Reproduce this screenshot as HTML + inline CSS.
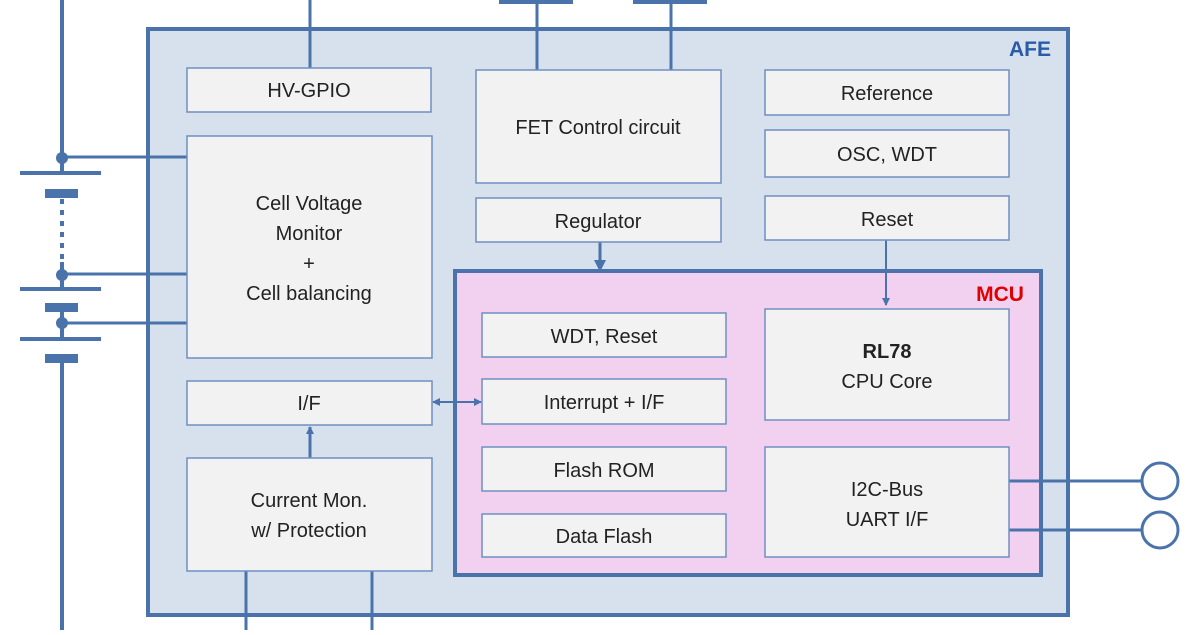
<!DOCTYPE html><html><head><style>body{margin:0;width:1200px;height:630px;overflow:hidden;background:#fff}</style></head><body>
<svg width="1200" height="630" xmlns="http://www.w3.org/2000/svg" font-family="Liberation Sans, sans-serif">
<defs>
<marker id="a" markerWidth="8" markerHeight="8" refX="7" refY="4" orient="auto" markerUnits="userSpaceOnUse"><path d="M0,0L8,4L0,8z" fill="#4a73ac"/></marker>
<marker id="c" markerWidth="12" markerHeight="12" refX="10" refY="6" orient="auto" markerUnits="userSpaceOnUse"><path d="M0,0L12,6L0,12z" fill="#4a73ac"/></marker>
<marker id="b" markerWidth="8" markerHeight="8" refX="1" refY="4" orient="auto" markerUnits="userSpaceOnUse"><path d="M8,0L0,4L8,8z" fill="#4a73ac"/></marker>
</defs>
<g stroke="#4a73ac" fill="none">
<rect x="148" y="29" width="920" height="586" fill="#d7e1ed" stroke-width="4"/>
<line x1="62" y1="0" x2="62" y2="173" stroke-width="4"/>
<line x1="62" y1="157" x2="187" y2="157" stroke-width="3"/>
<line x1="20" y1="173" x2="101" y2="173" stroke-width="4"/>
<rect x="45" y="189" width="33" height="9" fill="#4a73ac" stroke="none"/>
<line x1="62" y1="199" x2="62" y2="262" stroke-width="4" stroke-dasharray="5,6"/>
<line x1="62" y1="262" x2="62" y2="289" stroke-width="4"/>
<line x1="62" y1="274" x2="187" y2="274" stroke-width="3"/>
<line x1="20" y1="289" x2="101" y2="289" stroke-width="4"/>
<rect x="45" y="303" width="33" height="9" fill="#4a73ac" stroke="none"/>
<line x1="62" y1="310" x2="62" y2="339" stroke-width="4"/>
<line x1="62" y1="323" x2="187" y2="323" stroke-width="3"/>
<line x1="20" y1="339" x2="101" y2="339" stroke-width="4"/>
<rect x="45" y="354" width="33" height="9" fill="#4a73ac" stroke="none"/>
<line x1="62" y1="362" x2="62" y2="630" stroke-width="4"/>
<circle cx="62" cy="158" r="6" fill="#4a73ac" stroke="none"/>
<circle cx="62" cy="275" r="6" fill="#4a73ac" stroke="none"/>
<circle cx="62" cy="323" r="6" fill="#4a73ac" stroke="none"/>
<line x1="310" y1="0" x2="310" y2="68" stroke-width="3"/>
<line x1="537" y1="2" x2="537" y2="70" stroke-width="3"/>
<line x1="671" y1="2" x2="671" y2="70" stroke-width="3"/>
<line x1="499" y1="2" x2="573" y2="2" stroke-width="4"/>
<line x1="633" y1="2" x2="707" y2="2" stroke-width="4"/>
<line x1="246" y1="571" x2="246" y2="630" stroke-width="3"/>
<line x1="372" y1="571" x2="372" y2="630" stroke-width="3"/>
<rect x="455" y="271" width="586" height="304" fill="#f1d1ef" stroke-width="4"/>
<line x1="1009" y1="481" x2="1142" y2="481" stroke-width="3"/>
<line x1="1009" y1="530" x2="1142" y2="530" stroke-width="3"/>
<circle cx="1160" cy="481" r="18" fill="#fff" stroke-width="3"/>
<circle cx="1160" cy="530" r="18" fill="#fff" stroke-width="3"/>
<line x1="310" y1="458" x2="310" y2="427" stroke-width="3" marker-end="url(#a)"/>
<line x1="600" y1="242" x2="600" y2="270" stroke-width="3" marker-end="url(#c)"/>
<line x1="886" y1="240" x2="886" y2="305" stroke-width="2" marker-end="url(#a)"/>
<line x1="433" y1="402" x2="481" y2="402" stroke-width="2" marker-end="url(#a)" marker-start="url(#b)"/>
<g fill="#f2f2f2" stroke="#6f90c2" stroke-width="1.5">
<rect x="187" y="68" width="244" height="44"/>
<rect x="187" y="136" width="245" height="222"/>
<rect x="187" y="381" width="245" height="44"/>
<rect x="187" y="458" width="245" height="113"/>
<rect x="476" y="70" width="245" height="113"/>
<rect x="476" y="198" width="245" height="44"/>
<rect x="765" y="70" width="244" height="45"/>
<rect x="765" y="130" width="244" height="47"/>
<rect x="765" y="196" width="244" height="44"/>
<rect x="482" y="313" width="244" height="44"/>
<rect x="482" y="379" width="244" height="45"/>
<rect x="482" y="447" width="244" height="44"/>
<rect x="482" y="514" width="244" height="43"/>
<rect x="765" y="309" width="244" height="111"/>
<rect x="765" y="447" width="244" height="110"/>
</g>
</g>
<g font-size="20" fill="#222" text-anchor="middle">
<text x="309" y="97">HV-GPIO</text>
<text x="309" y="210">Cell Voltage</text>
<text x="309" y="240">Monitor</text>
<text x="309" y="270">+</text>
<text x="309" y="300">Cell balancing</text>
<text x="309" y="410">I/F</text>
<text x="309" y="507">Current Mon.</text>
<text x="309" y="537">w/ Protection</text>
<text x="598" y="134">FET Control circuit</text>
<text x="598" y="228">Regulator</text>
<text x="887" y="100">Reference</text>
<text x="887" y="161">OSC, WDT</text>
<text x="887" y="226">Reset</text>
<text x="604" y="343">WDT, Reset</text>
<text x="604" y="409">Interrupt + I/F</text>
<text x="604" y="477">Flash ROM</text>
<text x="604" y="543">Data Flash</text>
<text x="887" y="358" font-weight="bold">RL78</text>
<text x="887" y="388">CPU Core</text>
<text x="887" y="496">I2C-Bus</text>
<text x="887" y="526">UART I/F</text>
<text x="1030" y="56" fill="#2a5aa8" font-weight="bold" font-size="21">AFE</text>
<text x="1000" y="301" fill="#e00000" font-weight="bold" font-size="21">MCU</text>
</g>
</svg></body></html>
